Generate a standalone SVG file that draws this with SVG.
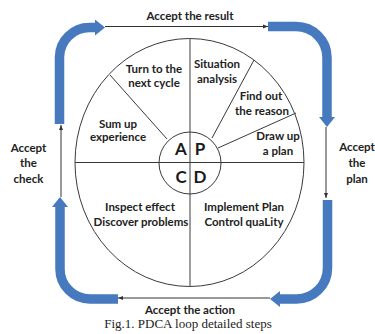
<svg xmlns="http://www.w3.org/2000/svg" width="375" height="334" viewBox="0 0 375 334">
  <style>
    .lbl { font-family: Lato, "Liberation Sans", sans-serif; font-weight: 700; font-size: 11.5px; fill: #222; text-anchor: middle; }
    .big { font-family: Lato, "Liberation Sans", sans-serif; font-weight: 700; font-size: 17px; fill: #1a1a1a; text-anchor: middle; }
    .cap { font-family: "Liberation Serif", "Times New Roman", serif; font-size: 13px; fill: #222; text-anchor: middle; }
    .rim { fill: none; stroke: #3a3a3a; stroke-width: 1; }
    .band { fill: none; stroke: #4679bd; stroke-width: 9.5; marker-end: url(#bigtip); }
    .thin { fill: none; stroke: #333; stroke-width: 1; marker-end: url(#tip); }
  </style>
  <defs>
    <marker id="tip" viewBox="0 0 10 10" refX="10" refY="5" markerWidth="5" markerHeight="5" orient="auto" markerUnits="userSpaceOnUse">
      <path d="M0,1 L10,5 L0,9 z" fill="#333"/>
    </marker>
    <marker id="bigtip" viewBox="0 0 10 16" refX="0" refY="8" markerWidth="10" markerHeight="16" orient="auto" markerUnits="userSpaceOnUse">
      <path d="M0,0 L10,8 L0,16 z" fill="#4679bd"/>
    </marker>
  </defs>
  <rect width="375" height="334" fill="#fff"/>

  <!-- wheel: outer rim, quadrant axes, spokes and hub -->
  <g id="wheel">
    <ellipse class="rim" cx="189.5" cy="162.5" rx="114.5" ry="124"/>
    <line class="rim" x1="190" y1="38.5" x2="190" y2="286.5"/>
    <line class="rim" x1="75" y1="162.5" x2="304" y2="162.5"/>
    <line class="rim" x1="167" y1="139" x2="110" y2="75"/>
    <line class="rim" x1="212" y1="138" x2="254" y2="60"/>
    <line class="rim" x1="218" y1="148" x2="296" y2="113"/>
    <circle class="rim" cx="190" cy="163" r="31"/>
  </g>

  <!-- hub letters -->
  <g id="hub">
    <text class="big" x="181" y="155">A</text>
    <text class="big" x="200" y="155">P</text>
    <text class="big" x="181" y="183">C</text>
    <text class="big" x="200" y="183">D</text>
  </g>

  <!-- sector steps -->
  <g id="step-next-cycle"><text class="lbl" x="154" y="72.5">Turn to the</text><text class="lbl" x="154" y="87">next cycle</text></g>
  <g id="step-sum-up"><text class="lbl" x="118" y="127.5">Sum up</text><text class="lbl" x="118" y="140.5">experience</text></g>
  <g id="step-situation"><text class="lbl" x="217" y="67.5">Situation</text><text class="lbl" x="217" y="82.5">analysis</text></g>
  <g id="step-reason"><text class="lbl" x="261" y="100">Find out</text><text class="lbl" x="262" y="115">the  reason</text></g>
  <g id="step-draw-plan"><text class="lbl" x="278" y="140">Draw up</text><text class="lbl" x="278" y="155">a plan</text></g>
  <g id="step-inspect"><text class="lbl" x="140" y="211">Inspect effect</text><text class="lbl" x="141" y="225.5">Discover problems</text></g>
  <g id="step-implement"><text class="lbl" x="244" y="211">Implement Plan</text><text class="lbl" x="244" y="225.5">Control quaLity</text></g>

  <!-- loop around the wheel -->
  <g id="connectors">
    <path class="band" d="M59.5,124 V57 A30,30 0 0 1 89.5,27.5 H95"/>
    <path class="thin" d="M105,26.5 H268"/>
    <path class="band" d="M268,26.5 H296 A31,31 0 0 1 327,57.5 V117"/>
    <path class="thin" d="M326,127 V198"/>
    <path class="band" d="M327.5,200 V268 A31,31 0 0 1 296.5,299 H280"/>
    <path class="thin" d="M270,298 H118"/>
    <path class="band" d="M118,299 H90 A30,30 0 0 1 60,269 V207"/>
    <path class="thin" d="M61,197 V125"/>
  </g>

  <g id="loop-labels">
    <text class="lbl" x="190" y="20">Accept the result</text>
    <text class="lbl" x="357" y="151">Accept</text>
    <text class="lbl" x="357" y="167">the</text>
    <text class="lbl" x="357" y="183">plan</text>
    <text class="lbl" x="190" y="314">Accept the action</text>
    <text class="lbl" x="28.5" y="151.5">Accept</text>
    <text class="lbl" x="28.5" y="166.5">the</text>
    <text class="lbl" x="28.5" y="183">check</text>
  </g>

  <text class="cap" x="188" y="328">Fig.1. PDCA loop detailed steps</text>
</svg>
